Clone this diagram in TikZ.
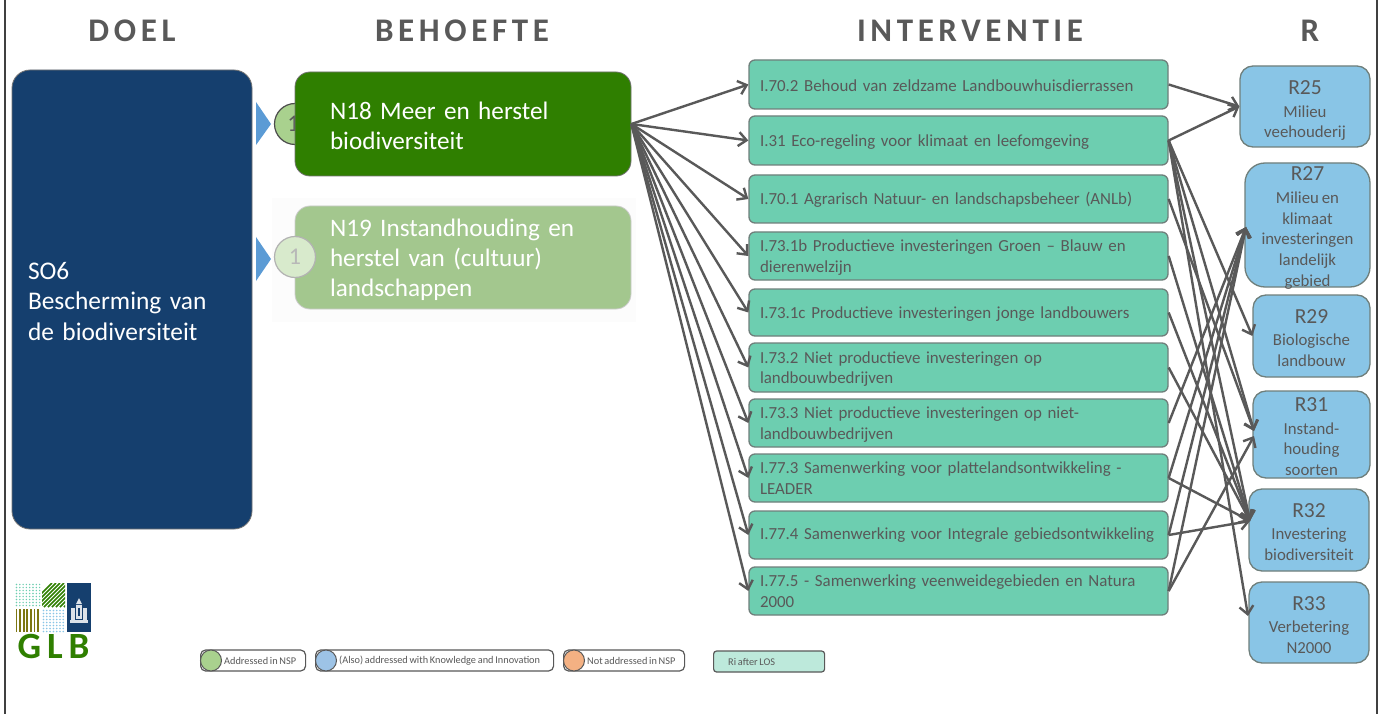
\documentclass[tikz,border=0pt]{standalone}
\usepackage{fontspec}
\setmainfont[WordSpace=0.75]{Carlito}
\usetikzlibrary{arrows.meta}
\definecolor{txt}{HTML}{595959}
\definecolor{edgeg}{HTML}{6F7F7B}
\definecolor{teal}{HTML}{6DCEB0}
\definecolor{sky}{HTML}{89C5E6}
\definecolor{navy}{HTML}{153F6E}
\definecolor{dgreen}{HTML}{2F7F00}
\definecolor{lgreen}{HTML}{A3C78E}
\definecolor{tri}{HTML}{5B9BD5}
\definecolor{legg}{HTML}{A9D18E}
\definecolor{legb}{HTML}{9DC3E6}
\definecolor{lego}{HTML}{F4B183}
\tikzset{
  x=1pt,y=-1pt,
  hdr/.style={text=txt,font=\fontsize{33}{36}\selectfont\bfseries\addfontfeature{LetterSpace=14},inner sep=0,anchor=center},
  ibox/.style={draw=edgeg,line width=1.3pt,fill=teal,rounded corners=6pt,minimum width=419pt,text width=397pt,inner xsep=11pt,inner ysep=0pt,align=left,text=txt,font=\fontsize{16.9}{20.5}\selectfont,anchor=center},
  lowtext/.style={execute at begin node=\rule{0pt}{14.8pt}},
  rbox/.style={draw=edgeg,line width=1.3pt,fill=sky,rounded corners=13pt,anchor=center},
  rtext/.style={text=txt,align=center,inner sep=0,font=\fontsize{16.8}{20.7}\selectfont},
  need/.style={rounded corners=15pt,minimum width=336pt,text width=266pt,inner xsep=35pt,align=left,text=white,font=\fontsize{25.2}{30}\selectfont,anchor=center},
  num/.style={circle,minimum size=41pt,inner sep=0,line width=1.2pt,font=\fontsize{24}{24}\selectfont},
  tick/.style={fill=tri,draw=none},
  cn/.style={draw=txt,line width=2.4pt,-{Straight Barb[length=8pt,width=14pt,line width=2.4pt]}},
  pill/.style={draw=txt,line width=1.2pt,fill=white,rounded corners=5pt,minimum height=21pt,anchor=west,inner sep=0},
  dotc/.style={circle,draw=txt,line width=1pt,minimum size=21pt,inner sep=0,anchor=west},
  legt/.style={text=txt,font=\fontsize{10.3}{11}\selectfont,inner sep=0,anchor=west},
}
\begin{document}
\begin{tikzpicture}
\useasboundingbox (0,0) rectangle (1379,714);
\fill[white] (0,0) rectangle (1379,714);
\draw[line width=1.4pt,color=black!75] (5,0) -- (5,714);
\draw[line width=1.4pt,color=black!75] (1377,0) -- (1377,714);
\node[hdr] (hdoel) at (132,31) {DOEL};
\node[hdr] (hbeh) at (462,31) {BEHOEFTE};
\node[hdr] (hint) at (970,31) {INTERVENTIE};
\node[hdr] (hr) at (1310,31) {R};
% goal
\node[draw=black!55,line width=.8pt,fill=navy,rounded corners=18pt,minimum width=240pt,minimum height=459pt,text width=208pt,inner xsep=16pt,align=left,text=white,font=\fontsize{25.4}{30.5}\selectfont,anchor=center] (so6) at (132,299.5) {\rule{0pt}{21pt}SO6\\Bescherming van\\de biodiversiteit};
% ticks
\fill[tick] (256,102) -- (271,124) -- (256,145) -- cycle;
\fill[tick] (256,237) -- (271,259) -- (256,281) -- cycle;
% needs
\fill[black!1] (272,198) rectangle (636,322);
\node[num,draw=black!70,fill=legg,text=txt] (c1) at (295,124) {\hspace*{-3pt}1};
\node[need,draw=black!55,line width=.8pt,fill=dgreen,minimum height=104pt] (n18) at (463,124) {\rule{0pt}{21pt}N18 Meer en herstel\\biodiversiteit};
\node[need,draw=black!20,line width=.8pt,fill=lgreen,minimum height=103pt] (n19) at (463,257.5) {\rule{0pt}{23pt}N19 Instandhouding en\\herstel van (cultuur)\\landschappen};
\node[num,draw=black!30,fill=legg!45!white,text=black!28] (c2) at (295,257) {1};
% interventions
\node[ibox,lowtext,minimum height=49pt] (i702) at (958.5,84.5) {I.70.2 Behoud van zeldzame Landbouwhuisdierrassen};
\node[ibox,lowtext,minimum height=49pt] (i31) at (958.5,140.5) {I.31 Eco-regeling voor klimaat en leefomgeving};
\node[ibox,lowtext,minimum height=48pt] (i701) at (958.5,199) {I.70.1 Agrarisch Natuur- en landschapsbeheer (ANLb)};
\node[ibox,lowtext,minimum height=48pt] (i731b) at (958.5,256) {I.73.1b Productieve investeringen Groen – Blauw en\\dierenwelzijn};
\node[ibox,lowtext,minimum height=47pt] (i731c) at (958.5,312.5) {I.73.1c Productieve investeringen jonge landbouwers};
\node[ibox,lowtext,minimum height=49pt] (i732) at (958.5,367.5) {I.73.2 Niet productieve investeringen op\\landbouwbedrijven};
\node[ibox,lowtext,minimum height=48pt] (i733) at (958.5,423) {I.73.3 Niet productieve investeringen op niet-\\landbouwbedrijven};
\node[ibox,minimum height=48pt] (i773) at (958.5,478) {I.77.3 Samenwerking voor plattelandsontwikkeling -\\LEADER};
\node[ibox,minimum height=48pt] (i774) at (958.5,535) {I.77.4 Samenwerking voor Integrale gebiedsontwikkeling};
\node[ibox,minimum height=48pt] (i775) at (958.5,591) {I.77.5 - Samenwerking veenweidegebieden en Natura\\2000};
% results
\node[rbox,minimum width=130pt,minimum height=81pt,label={[rtext,yshift=-4pt]center:{\fontsize{21.5}{21}\selectfont R25}\\[2pt]Milieu\\veehouderij}] (r25) at (1305,106.5) {};
\node[rbox,rounded corners=20pt,minimum width=125pt,minimum height=124pt,label={[rtext,yshift=-3pt]center:{\fontsize{21.5}{21}\selectfont R27}\\[2pt]Milieu en\\klimaat\\investeringen\\landelijk\\gebied}] (r27) at (1307.5,225) {};
\node[rbox,minimum width=117pt,minimum height=82pt,label={[rtext,yshift=-2pt]center:{\fontsize{21.5}{21}\selectfont R29}\\[2pt]Biologische\\landbouw}] (r29) at (1311.5,336) {};
\node[rbox,minimum width=117pt,minimum height=87pt,label={[rtext,yshift=-2pt]center:{\fontsize{21.5}{21}\selectfont R31}\\[2pt]Instand-\\houding\\soorten}] (r31) at (1311.5,434.5) {};
\node[rbox,minimum width=120pt,minimum height=82pt,label={[rtext,yshift=-2pt]center:{\fontsize{21.5}{21}\selectfont R32}\\[2pt]Investering\\biodiversiteit}] (r32) at (1309,530) {};
\node[rbox,minimum width=120pt,minimum height=81pt,label={[rtext,yshift=-2.5pt]center:{\fontsize{21.5}{21}\selectfont R33}\\[2pt]Verbetering\\N2000}] (r33) at (1309,622.5) {};
\coordinate (r27in) at (1246,227);
\coordinate (r31a) at (1254,431);
\coordinate (r31b) at (1254,436);
\coordinate (r32in) at (1250,521);
\coordinate (r33in) at (1248,616);
% need -> interventions
\foreach \t in {i702,i31,i701,i731b,i731c,i732,i733,i773,i774,i775}
  \draw[cn] (n18.east) -- (\t.west);
% interventions -> results
\draw[cn] (i702.east) -- (r25.west);
\draw[cn] (i31.east) -- (r25.west);
\draw[cn] (i31.east) -- (r29.west);
\draw[cn] (i31.east) -- (r31a);
\draw[cn] (i31.east) -- (r32in);
\draw[cn] (i31.east) -- (r33in);
\draw[cn] (i701.east) -- (r31a);
\draw[cn] (i731b.east) -- (r32in);
\draw[cn] (i731c.east) -- (r32in);
\draw[cn] (i732.east) -- (r32in);
\draw[cn] (i733.east) -- (r27in);
\draw[cn] (i773.east) -- (r27in);
\draw[cn] (i773.east) -- (r32in);
\draw[cn] (i774.east) -- (r27in);
\draw[cn] (i774.east) -- (r32in);
\draw[cn] (i775.east) -- (r27in);
\draw[cn] (i775.east) -- (r31b);
% logo
\foreach \i in {0,...,7} \foreach \j in {0,...,7}
  \fill[teal] (16.5+3.3*\i,584.5+3*\j) circle (.8);
\begin{scope}
\clip (42,583) rectangle (65,607);
\foreach \i in {-2,...,10}
  \draw[dgreen,line width=1.5pt] (36+4*\i,607) -- (36+4*\i+24,583);
\end{scope}
\foreach \i in {0,...,6}
  \fill[olive!85!black] (15.5+3.6*\i,609) rectangle (17.3+3.6*\i,632);
\foreach \i in {0,...,6} \foreach \j in {0,...,7}
  \fill[sky] (43.5+3.3*\i,610.5+3*\j) circle (.9);
\fill[navy] (67,583) rectangle (91,632);
\fill[white!85!navy] (70,620) rectangle (88,622.5);
\fill[white!85!navy] (71,608) rectangle (75,620);
\fill[white!85!navy] (83,608) rectangle (87,620);
\fill[white!85!navy] (76,605) rectangle (82,619);
\fill[white!85!navy] (76,604) -- (79,598) -- (82,604) -- cycle;
\fill[navy] (78,608) rectangle (80,616);
\node[text=dgreen,inner sep=0,font=\fontsize{37}{37}\selectfont\bfseries\addfontfeature{LetterSpace=16},anchor=center] (glb) at (53.5,646.5) {GLB};
% legend
\node[pill,minimum width=105pt] (p1) at (200,660.5) {};
\node[dotc,fill=legg] (d1) at (200,660.5) {};
\node[legt] (t1) at (224,660.5) {Addressed in NSP};
\node[pill,minimum width=238pt] (p2) at (315,660.5) {};
\node[dotc,fill=legb] (d2) at (315,660.5) {};
\node[legt] (t2) at (339,660.5) {(Also) addressed with Knowledge and Innovation};
\node[pill,minimum width=121pt] (p3) at (563,660.5) {};
\node[dotc,fill=lego] (d3) at (563,660.5) {};
\node[legt] (t3) at (587,660.5) {Not addressed in NSP};
\node[pill,minimum width=111pt,fill=teal!45!white,rounded corners=3pt] (p4) at (713,661.5) {};
\node[legt] (t4) at (728,661.5) {Ri after LOS};
\end{tikzpicture}
\end{document}
